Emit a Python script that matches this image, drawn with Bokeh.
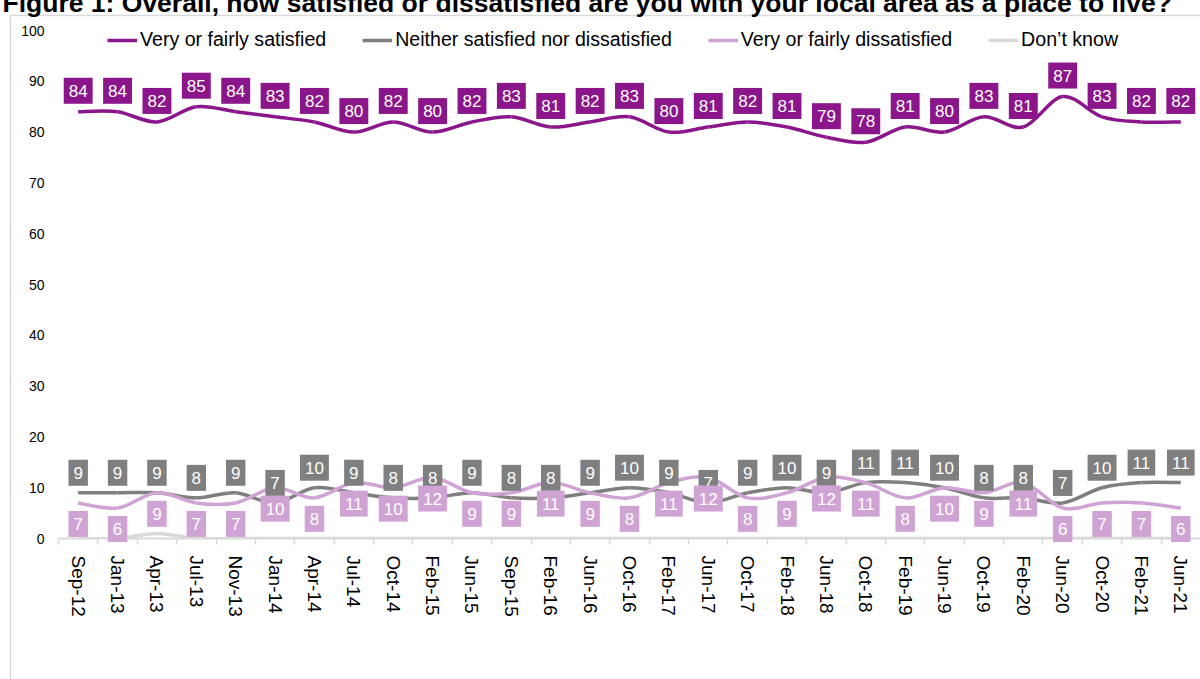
import numpy as np
from bokeh.plotting import figure
from bokeh.models import (ColumnDataSource, FixedTicker, Legend, LegendItem, Range1d)
from bokeh.embed import file_html
from bokeh.resources import INLINE
from bokeh.core.properties import value

# ---------------- data ----------------
title_text = ("Figure 1: Overall, how satisfied or dissatisfied are you with your "
              "local area as a place to live?")
categories = ["Sep-12", "Jan-13", "Apr-13", "Jul-13", "Nov-13", "Jan-14", "Apr-14",
              "Jul-14", "Oct-14", "Feb-15", "Jun-15", "Sep-15", "Feb-16", "Jun-16",
              "Oct-16", "Feb-17", "Jun-17", "Oct-17", "Feb-18", "Jun-18", "Oct-18",
              "Feb-19", "Jun-19", "Oct-19", "Feb-20", "Jun-20", "Oct-20", "Feb-21",
              "Jun-21"]
satisfied = [84, 84, 82, 85, 84, 83, 82, 80, 82, 80, 82, 83, 81, 82, 83, 80, 81, 82,
             81, 79, 78, 81, 80, 83, 81, 87, 83, 82, 82]
neither = [9, 9, 9, 8, 9, 7, 10, 9, 8, 8, 9, 8, 8, 9, 10, 9, 7, 9, 10, 9, 11, 11, 10,
           8, 8, 7, 10, 11, 11]
dissatisfied = [7, 6, 9, 7, 7, 10, 8, 11, 10, 12, 9, 9, 11, 9, 8, 11, 12, 8, 9, 12, 11,
                8, 10, 9, 11, 6, 7, 7, 6]
dont_know = [0, 0, 1, 0, 0, 0, 0, 0, 0, 0, 0, 0, 0, 0, 0, 0, 0, 0, 0, 0, 0, 0, 0, 0,
             0, 0, 0, 0, 0]
series_names = ["Very or fairly satisfied", "Neither satisfied nor dissatisfied",
                "Very or fairly dissatisfied", "Don\u2019t know"]
y_ticks = [0, 10, 20, 30, 40, 50, 60, 70, 80, 90, 100]

# ---------------- style ----------------
C_SAT = "#8B168B"
C_NEI = "#7F7F7F"
C_DIS = "#CFA3D3"
C_DK = "#D9D9D9"
FONT = "Liberation Sans"

W, H = 1200, 679
FRAME_LEFT, FRAME_BOTTOM, FRAME_TOP = 58, 538, 20   # canvas px
PX_PER_Y = 5.08
n = len(categories)
PX_PER_X = (W - FRAME_LEFT) / n

def xd(cx):   # canvas x -> data x
    return -0.5 + (cx - FRAME_LEFT) / PX_PER_X

def yd(cy):   # canvas y -> data y
    return (FRAME_BOTTOM - cy) / PX_PER_Y

p = figure(width=W, height=H, output_backend="svg", toolbar_location=None,
           x_range=Range1d(-0.5, n - 0.5), y_range=Range1d(0, yd(FRAME_TOP)),
           min_border_left=FRAME_LEFT, min_border_right=0,
           min_border_top=FRAME_TOP, min_border_bottom=H - FRAME_BOTTOM)
p.outline_line_color = None
p.grid.visible = False
p.background_fill_color = "white"
p.border_fill_color = "white"

# outer chart frame (light grey, runs off right/bottom)
fr = p.quad(left=[xd(10)], right=[xd(3000)], top=[yd(15)], bottom=[yd(3000)],
            fill_alpha=0, line_color="#D9D9D9", line_width=1.5)
fr.level = "annotation"

# title (cut at the top, as in the reference)
tt = p.text(x=[xd(2)], y=[yd(2)], text=[title_text], text_font=value(FONT),
            text_font_size="26.5px", text_font_style="bold", text_color="black",
            text_align="left", text_baseline="alphabetic")
tt.level = "annotation"

def smooth(vals):
    m = len(vals)
    d = dict(x0=[], y0=[], x1=[], y1=[], cx0=[], cy0=[], cx1=[], cy1=[])
    for i in range(m - 1):
        im = i - 1 if i > 0 else i
        ip = i + 2 if i + 2 < m else i + 1
        d["x0"].append(i); d["y0"].append(vals[i])
        d["x1"].append(i + 1); d["y1"].append(vals[i + 1])
        d["cx0"].append(i + (i + 1 - im) / 6.0)
        d["cy0"].append(vals[i] + (vals[i + 1] - vals[im]) / 6.0)
        d["cx1"].append(i + 1 - (ip - i) / 6.0)
        d["cy1"].append(vals[i + 1] - (vals[ip] - vals[i]) / 6.0)
    return ColumnDataSource(d)

renderers = []
for vals, col in [(satisfied, C_SAT), (neither, C_NEI), (dissatisfied, C_DIS),
                  (dont_know, C_DK)]:
    r = p.bezier(x0="x0", y0="y0", x1="x1", y1="y1", cx0="cx0", cy0="cy0",
                 cx1="cx1", cy1="cy1", source=smooth(vals), line_color=col,
                 line_width=3.5)
    renderers.append(r)

# data labels
for vals, col, off in [(neither, C_NEI, -20), (satisfied, C_SAT, -21),
                       (dissatisfied, C_DIS, 21)]:
    src = ColumnDataSource(dict(x=list(range(n)), y=vals, t=[str(v) for v in vals]))
    tr = p.text(x="x", y="y", text="t", source=src, y_offset=off,
                text_color="white", text_font=value(FONT), text_font_size="17px",
                text_align="center", text_baseline="middle",
                background_fill_color=col, padding=(5, 7))
    tr.level = "annotation"

# axes
xa = p.xaxis[0]
xa.ticker = FixedTicker(ticks=list(range(n)), minor_ticks=[i - 0.5 for i in range(n + 1)])
xa.major_label_overrides = {i: c for i, c in enumerate(categories)}
xa.major_tick_line_color = None
xa.major_tick_out = 0
xa.major_tick_in = 0
xa.minor_tick_out = 6
xa.minor_tick_in = 0
xa.minor_tick_line_color = "#D9D9D9"
xa.minor_tick_line_width = 1.5
xa.axis_line_color = "#D9D9D9"
xa.axis_line_width = 2
xa.major_label_orientation = "vertical"
xa.major_label_text_font = FONT
xa.major_label_text_font_size = "19px"
xa.major_label_text_color = "black"
xa.major_label_standoff = 11

ya = p.yaxis[0]
ya.ticker = FixedTicker(ticks=y_ticks)
ya.axis_line_color = None
ya.major_tick_line_color = None
ya.minor_tick_line_color = None
ya.major_tick_out = 0
ya.major_tick_in = 0
ya.major_label_text_font = FONT
ya.major_label_text_font_size = "14px"
ya.major_label_text_color = "black"
ya.major_label_standoff = 14

legend = Legend(items=[LegendItem(label=nm, renderers=[r])
                       for nm, r in zip(series_names, renderers)],
                orientation="horizontal", location=(49, FRAME_BOTTOM - FRAME_TOP - 31),
                padding=0, margin=0, spacing=36, glyph_width=30, glyph_height=20,
                label_standoff=3, label_text_font=FONT, label_text_font_size="19.6px",
                label_text_color="black", border_line_color=None,
                background_fill_alpha=0)
p.add_layout(legend)

open("out.html", "w").write(file_html(p, INLINE))
